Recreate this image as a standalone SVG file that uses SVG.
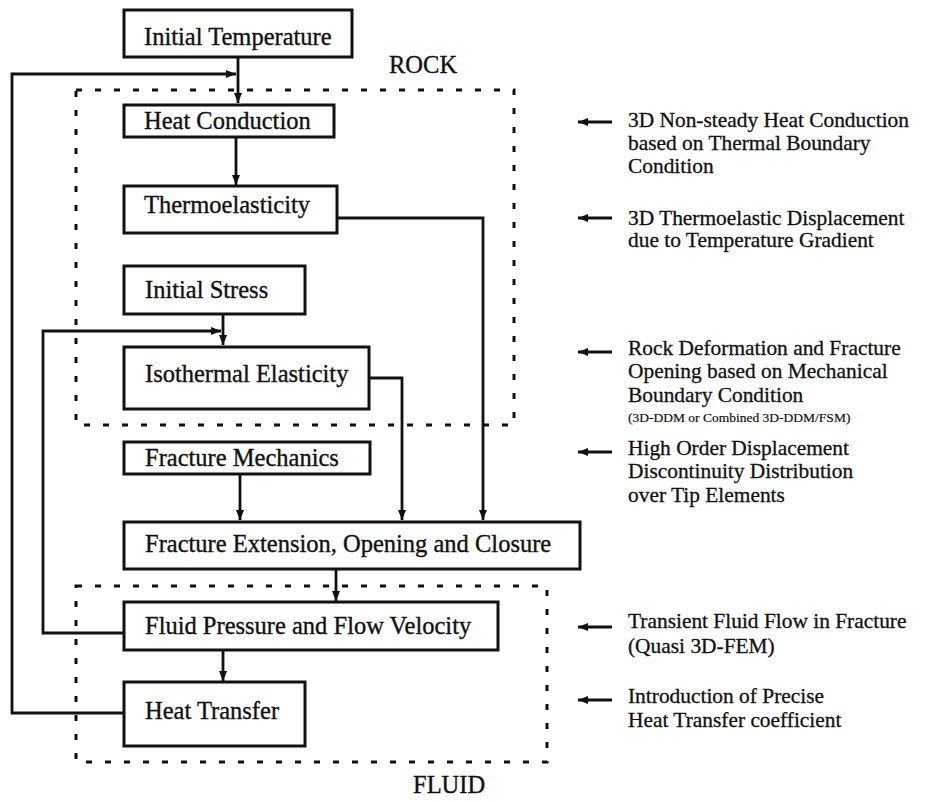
<svg xmlns="http://www.w3.org/2000/svg" width="930" height="802" viewBox="0 0 930 802">
<style>
.box{fill:#fff;stroke:#111;stroke-width:3}
.lbl{font-family:"Liberation Serif","Times New Roman",serif;font-size:24.5px;fill:#111;stroke:#111;stroke-width:0.35}
.note{font-family:"Liberation Serif","Times New Roman",serif;font-size:21.4px;fill:#111;stroke:#111;stroke-width:0.3}
.small{font-family:"Liberation Serif","Times New Roman",serif;font-size:13.5px;fill:#111;stroke:#111;stroke-width:0.2}
.con{fill:none;stroke:#111;stroke-width:2.8}
.dash{fill:none;stroke:#111;stroke-width:3;stroke-dasharray:6 13}
</style>
<defs>
<marker id="ah" viewBox="0 0 10 8" refX="10" refY="4" markerWidth="10" markerHeight="8" markerUnits="userSpaceOnUse" orient="auto">
<path d="M0,0 L10,4 L0,8 z" fill="#111"/>
</marker>
</defs>
<rect width="930" height="802" fill="#fff"/>

<g id="regions">
<rect class="dash" x="76" y="90" width="438" height="335"/>
<text class="lbl" x="389" y="73">ROCK</text>
<rect class="dash" x="76" y="586" width="471" height="176"/>
<text class="lbl" x="413" y="793">FLUID</text>
</g>

<g id="connectors">
<path class="con" d="M238,57 V103" marker-end="url(#ah)"/>
<path class="con" d="M124,713 H12 V74 H236" marker-end="url(#ah)"/>
<path class="con" d="M236,137 V185" marker-end="url(#ah)"/>
<path class="con" d="M337,218 H483 V520" marker-end="url(#ah)"/>
<path class="con" d="M223,314 V345" marker-end="url(#ah)"/>
<path class="con" d="M124,633 H43 V331 H221" marker-end="url(#ah)"/>
<path class="con" d="M369,378 H402 V520" marker-end="url(#ah)"/>
<path class="con" d="M240,474 V520" marker-end="url(#ah)"/>
<path class="con" d="M336,569 V601" marker-end="url(#ah)"/>
<path class="con" d="M223,650 V681" marker-end="url(#ah)"/>
</g>

<g id="initial-temperature"><rect class="box" x="124" y="10" width="228" height="47"/><text class="lbl" x="144" y="45">Initial Temperature</text></g>
<g id="heat-conduction"><rect class="box" x="124" y="105" width="210" height="32"/><text class="lbl" x="144" y="129">Heat Conduction</text></g>
<g id="thermoelasticity"><rect class="box" x="124" y="186" width="213" height="47"/><text class="lbl" x="144" y="213">Thermoelasticity</text></g>
<g id="initial-stress"><rect class="box" x="124" y="266" width="181" height="48"/><text class="lbl" x="145" y="298">Initial Stress</text></g>
<g id="isothermal-elasticity"><rect class="box" x="124" y="347" width="245" height="62"/><text class="lbl" x="145" y="382">Isothermal Elasticity</text></g>
<g id="fracture-mechanics"><rect class="box" x="124" y="442" width="246" height="32"/><text class="lbl" x="145" y="466">Fracture Mechanics</text></g>
<g id="fracture-extension"><rect class="box" x="124" y="522" width="456" height="47"/><text class="lbl" x="145" y="552">Fracture Extension, Opening and Closure</text></g>
<g id="fluid-pressure"><rect class="box" x="124" y="602" width="374" height="48"/><text class="lbl" x="145" y="634">Fluid Pressure and Flow Velocity</text></g>
<g id="heat-transfer"><rect class="box" x="124" y="682" width="181" height="64"/><text class="lbl" x="145" y="719">Heat Transfer</text></g>

<g id="annotations">
<path class="con" d="M612,122 H578" marker-end="url(#ah)"/>
<text class="note" x="628" y="127">3D Non-steady Heat Conduction</text>
<text class="note" x="628" y="150">based on Thermal Boundary</text>
<text class="note" x="628" y="173">Condition</text>
<path class="con" d="M612,218 H578" marker-end="url(#ah)"/>
<text class="note" x="628" y="225">3D Thermoelastic Displacement</text>
<text class="note" x="628" y="247">due to Temperature Gradient</text>
<path class="con" d="M612,352 H578" marker-end="url(#ah)"/>
<text class="note" x="628" y="355">Rock Deformation and Fracture</text>
<text class="note" x="628" y="378">Opening based on Mechanical</text>
<text class="note" x="628" y="402">Boundary Condition</text>
<text class="small" x="628" y="422">(3D-DDM or Combined 3D-DDM/FSM)</text>
<path class="con" d="M612,452 H578" marker-end="url(#ah)"/>
<text class="note" x="628" y="455">High Order Displacement</text>
<text class="note" x="628" y="478">Discontinuity Distribution</text>
<text class="note" x="628" y="502">over Tip Elements</text>
<path class="con" d="M612,627 H578" marker-end="url(#ah)"/>
<text class="note" x="628" y="628">Transient Fluid Flow in Fracture</text>
<text class="note" x="628" y="653">(Quasi 3D-FEM)</text>
<path class="con" d="M612,700 H578" marker-end="url(#ah)"/>
<text class="note" x="628" y="703">Introduction of Precise</text>
<text class="note" x="628" y="727">Heat Transfer coefficient</text>
</g>
</svg>
